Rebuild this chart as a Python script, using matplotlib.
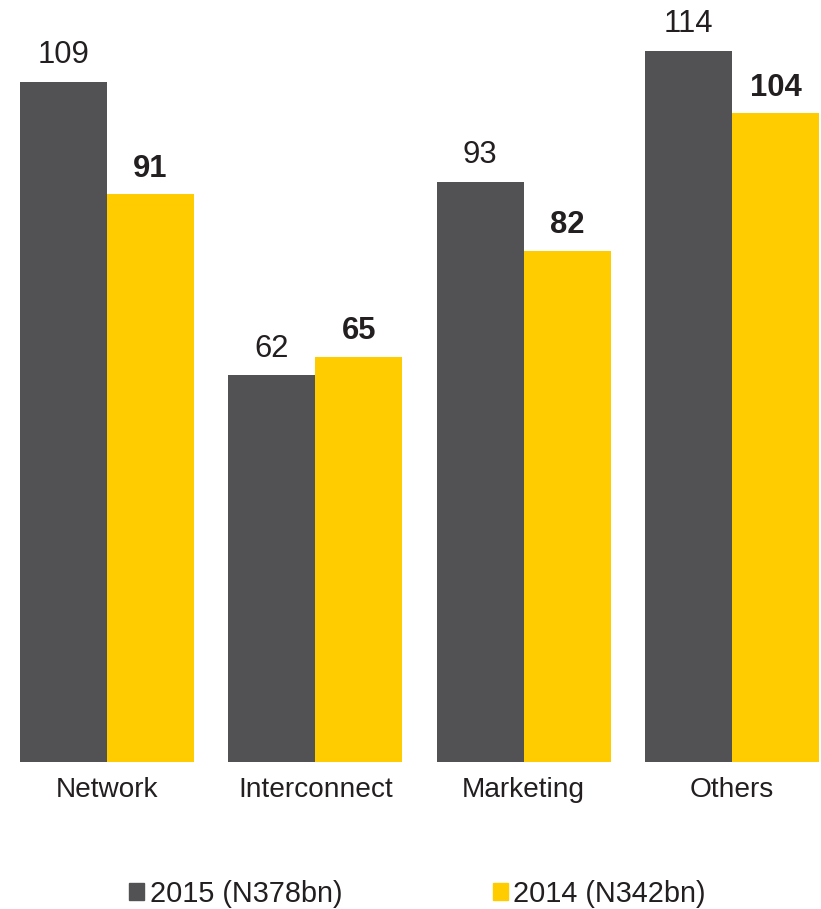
import matplotlib.pyplot as plt
import numpy as np
from matplotlib.patches import Patch

plt.rcParams['font.family'] = ['Liberation Sans', 'DejaVu Sans']

categories = ['Network', 'Interconnect', 'Marketing', 'Others']
values_2015 = [109, 62, 93, 114]
values_2014 = [91, 65, 82, 104]
series_labels = ['2015 (N378bn)', '2014 (N342bn)']

dark = '#525254'
yellow = '#FFCC00'
text_color = '#231F20'

fig = plt.figure(figsize=(8.21, 9.09), dpi=100)
ax = fig.add_axes([20 / 821, 147 / 909, 799 / 821, 748.5 / 909])

x = np.arange(len(categories))
w = 0.418
b1 = ax.bar(x - w / 2, values_2015, width=w, color=dark, label=series_labels[0])
b2 = ax.bar(x + w / 2, values_2014, width=w, color=yellow, label=series_labels[1])

for rect, v in zip(b1, values_2015):
    ax.annotate(f'{v}', (rect.get_x() + rect.get_width() / 2, v),
                xytext=(0, 13.5), textcoords='offset points',
                ha='center', va='baseline', fontsize=22.3, color=text_color)
for rect, v in zip(b2, values_2014):
    ax.annotate(f'{v}', (rect.get_x() + rect.get_width() / 2, v),
                xytext=(0, 12.5), textcoords='offset points',
                ha='center', va='baseline', fontsize=22.3, fontweight='bold',
                color=text_color)

ax.set_xlim(-w, len(categories) - 1 + w)
ax.set_ylim(0, 120)
ax.set_xticks(x)
ax.set_xticklabels(categories, fontsize=20.2, color=text_color)
ax.tick_params(axis='x', length=0, pad=10.5)
ax.set_yticks([])
for s in ax.spines.values():
    s.set_visible(False)

handles = [Patch(color=dark), Patch(color=yellow)]
fig.legend(handles, series_labels, loc='center', bbox_to_anchor=(0.5085, 1 - 894 / 909),
           ncol=2, frameon=False, fontsize=20.8, handlelength=0.52, handleheight=0.52,
           handletextpad=0.2, columnspacing=5.2, labelcolor=text_color)

fig.savefig('out.png', dpi=100)
